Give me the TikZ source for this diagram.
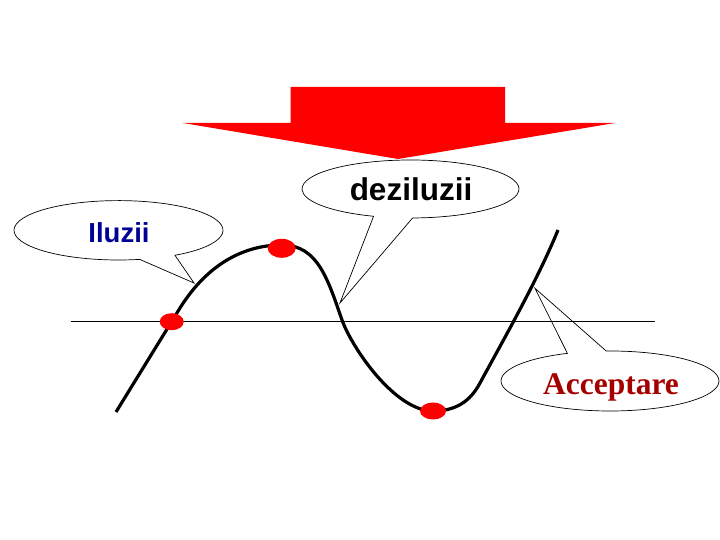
\documentclass[tikz,border=0pt]{standalone}
\usepackage{fontspec}
\newfontfamily\slidesans{Liberation Sans}
\newfontfamily\slideserif{Liberation Serif}
\definecolor{darkblue}{HTML}{000099}
\definecolor{darkred}{HTML}{A50000}

\begin{document}
\begin{tikzpicture}[x=1pt,y=1pt,
	bubble/.style={draw=black,fill=white,line width=0.7pt,line join=miter},
	dot/.style={fill=red,draw=none},
	label/.style={anchor=base,inner sep=0pt,font=\slidesans\bfseries}]
		\useasboundingbox (0,0) rectangle (720,540);
		% centres of the bubbles and ends of their pointers
		\coordinate (ilc) at (118.5,309.7);
		\coordinate (dzc) at (410.5,351);
		\coordinate (acc) at (610,159);
		\coordinate (iltip) at (194,257);
		\coordinate (dztip) at (340,237);
		\coordinate (actip) at (535,251.7);
		\draw[bubble] (ilc) ++(-57.3:104.5 and 29.7)
			arc[start angle=-57.3,end angle=281.7,x radius=104.5,y radius=29.7] -- (iltip) -- cycle;
		\draw[bubble] (dzc) ++(-88.9:108.5 and 29)
			arc[start angle=-88.9,end angle=250.1,x radius=108.5,y radius=29] -- (dztip) -- cycle;
		\draw[bubble] (acc) ++(113:109 and 30)
			arc[start angle=113,end angle=452,x radius=109,y radius=30] -- (actip) -- cycle;
		\node[label,text=darkblue,font=\slidesans\bfseries\fontsize{27.5}{32}\selectfont] (iluzii) at (119,297.5) {Iluzii};
		\node[label,font=\slidesans\bfseries\fontsize{31.5}{36}\selectfont] (deziluzii) at (411,339) {deziluzii};
		\node[label,text=darkred,font=\slideserif\bfseries\fontsize{31.5}{36}\selectfont] (acceptare) at (611,145) {Acceptare};
		\fill[red] (290.7,453) -- (505,453) -- (505,417) -- (615,417) -- (398,381)
			-- (183,417) -- (290.7,417) -- cycle;
		\coordinate (axl) at (71,219);
		\coordinate (axr) at (655,219);
		\draw[line width=0.8pt] (axl) -- (axr);
		\draw[line width=3.2pt,line join=round] (116,128) -- (180,232)
			.. controls (205,272) and (240,295) .. (282,295)
			.. controls (318,295) and (328,260) .. (342,220)
			.. controls (352,192) and (395,129) .. (433,129)
			.. controls (455,129) and (470,138) .. (480,157)
			.. controls (505,203) and (538,261) .. (558,310);
		\fill[dot] (171.7,218.3) ellipse[x radius=12,y radius=8.5];
		\fill[dot] (281.7,291.7) ellipse[x radius=14,y radius=9.5];
		\fill[dot] (433,129) ellipse[x radius=13,y radius=8.5];
\end{tikzpicture}
\end{document}
